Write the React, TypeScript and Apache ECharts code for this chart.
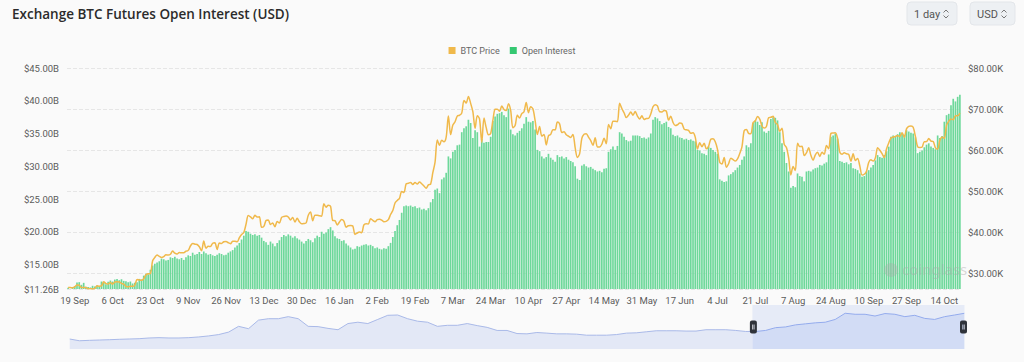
import React, { useEffect, useRef } from 'react';
import * as echarts from 'echarts';

// ---------- data ----------
const START_DATE = '2023-09-16';
const DAY_COUNT = 402;
const MONTH_NAMES = ['Jan', 'Feb', 'Mar', 'Apr', 'May', 'Jun', 'Jul', 'Aug', 'Sep', 'Oct', 'Nov', 'Dec'];

const categories: string[] = (() => {
  const out: string[] = [];
  const d0 = new Date(START_DATE + 'T00:00:00Z');
  for (let i = 0; i < DAY_COUNT; i++) {
    const d = new Date(d0.getTime() + i * 86400000);
    out.push(d.getUTCDate() + ' ' + MONTH_NAMES[d.getUTCMonth()]);
  }
  return out;
})();

// Open interest, billions USD (one per day)
const openInterestB = [
  11.45, 11.26, 11.40, 11.70, 12.25, 12.30, 11.90, 12.20, 11.60, 11.55,
  11.50, 11.75, 11.65, 11.80, 11.60, 12.40, 12.30, 12.00, 12.35, 12.55,
  12.40, 12.70, 12.80, 12.60, 12.75, 12.50, 12.45, 12.30, 12.40, 12.10,
  12.20, 12.30, 12.80, 12.70, 13.30, 13.60, 13.50, 14.20, 14.85, 15.10,
  15.30, 15.50, 15.90, 15.80, 15.60, 15.70, 16.10, 16.00, 16.20, 15.90,
  15.80, 16.00, 15.70, 16.10, 16.40, 16.30, 16.80, 16.50, 16.60, 16.90,
  16.60, 17.00, 16.70, 16.50, 16.60, 16.40, 16.30, 16.50, 16.70, 16.60,
  16.40, 16.50, 16.80, 17.00, 17.20, 17.60, 17.90, 18.30, 18.80, 19.40,
  20.10, 20.00, 19.70, 19.50, 19.60, 19.40, 19.50, 19.10, 18.60, 18.40,
  18.00, 18.50, 18.20, 17.80, 18.30, 18.70, 19.20, 19.50, 19.30, 19.60,
  19.40, 19.10, 19.30, 19.00, 18.80, 18.50, 18.20, 18.60, 18.90, 18.70,
  18.40, 19.00, 19.40, 19.20, 20.00, 19.70, 19.90, 20.40, 20.70, 20.20,
  19.30, 19.00, 18.90, 18.60, 18.70, 18.20, 17.90, 17.60, 17.30, 17.40,
  17.80, 17.70, 17.90, 18.00, 18.10, 17.90, 18.00, 17.80, 17.50, 17.60,
  17.40, 17.30, 17.50, 17.40, 17.80, 18.30, 19.20, 20.10, 21.00, 21.80,
  22.90, 23.90, 24.00, 23.90, 24.00, 23.80, 23.90, 23.60, 23.70, 23.40,
  23.50, 23.30, 23.60, 24.50, 25.00, 26.40, 26.60, 25.90, 28.00, 28.30,
  29.00, 31.50, 31.20, 32.20, 32.50, 33.20, 33.30, 35.20, 35.80, 36.10,
  37.10, 36.60, 34.30, 35.50, 35.20, 33.00, 34.20, 33.60, 33.70, 33.70,
  34.50, 36.90, 37.60, 38.00, 38.10, 38.30, 37.80, 37.50, 38.80, 35.60,
  34.90, 34.70, 35.10, 35.40, 35.80, 36.50, 37.50, 36.80, 36.70, 36.90,
  35.60, 32.50, 32.30, 31.50, 31.20, 31.40, 31.90, 31.30, 31.00, 30.70,
  31.70, 31.40, 31.50, 31.20, 31.40, 31.00, 30.80, 30.60, 30.00, 28.10,
  27.90, 30.10, 30.30, 30.00, 29.80, 29.90, 29.60, 29.40, 29.20, 29.30,
  29.10, 29.60, 29.70, 32.20, 32.60, 33.00, 32.50, 33.10, 35.20, 35.00,
  34.50, 34.00, 33.80, 33.90, 34.70, 34.70, 34.70, 34.60, 34.30, 34.40,
  34.20, 34.40, 35.00, 37.10, 37.50, 37.30, 36.90, 36.40, 36.60, 36.80,
  36.00, 35.80, 34.80, 34.60, 34.70, 34.40, 34.30, 34.10, 34.20, 34.00,
  34.10, 33.90, 33.80, 32.50, 32.40, 32.00, 31.90, 31.70, 33.00, 32.80,
  32.50, 32.20, 31.90, 28.00, 27.80, 27.60, 27.70, 28.60, 28.80, 29.10,
  29.40, 29.80, 30.20, 31.00, 31.50, 33.20, 32.90, 33.50, 36.60, 37.00,
  36.80, 36.30, 36.70, 35.30, 35.10, 35.40, 37.20, 37.50, 37.40, 37.00,
  35.20, 33.50, 32.20, 30.50, 29.20, 26.70, 27.00, 26.80, 28.90, 28.50,
  28.40, 27.70, 29.20, 29.30, 29.20, 29.50, 29.70, 29.80, 30.20, 30.10,
  30.40, 30.60, 31.80, 34.50, 34.70, 35.00, 34.20, 30.80, 30.70, 30.50,
  30.60, 30.30, 30.50, 29.70, 29.60, 29.40, 28.90, 28.40, 28.50, 29.20,
  29.40, 29.80, 30.20, 30.90, 31.70, 31.40, 31.30, 31.70, 32.30, 33.00,
  34.50, 34.70, 34.60, 34.90, 35.20, 35.00, 34.80, 35.50, 35.30, 35.10,
  35.00, 34.40, 32.00, 32.20, 32.40, 32.90, 33.30, 33.50, 33.00, 32.80,
  32.60, 34.70, 34.30, 34.60, 36.80, 37.80, 38.00, 39.30, 40.30, 39.90,
  40.60, 40.90,
];

// BTC price, thousands USD (one per day)
const btcPriceK = [
  26.60, 26.57, 26.53, 26.76, 27.21, 27.13, 26.57, 26.58, 26.58, 26.26, 26.30, 26.22, 26.35, 27.02, 26.91, 26.97,
  27.98, 27.53, 27.43, 27.79, 27.41, 27.95, 27.97, 27.94, 27.60, 27.39, 26.87, 26.76, 26.86, 26.86, 27.16, 28.52,
  28.42, 28.33, 28.72, 29.68, 29.92, 29.99, 33.09, 33.92, 34.50, 34.16, 33.91, 34.09, 34.54, 34.48, 34.67,
  35.44, 34.94, 34.73, 35.08, 35.05, 35.05, 35.42, 35.62, 36.69, 37.32, 37.13, 37.05, 36.50, 35.54, 37.88,
  36.15, 36.60, 36.57, 37.36, 37.45, 35.82, 37.42, 37.29, 37.72, 37.80, 37.48, 37.25, 37.83, 37.86, 37.71,
  38.69, 39.47, 39.98, 41.98, 44.08, 43.75, 43.29, 44.17, 43.72, 43.79, 41.24, 41.45, 42.89, 43.02, 41.94, 42.26,
  41.36, 42.65, 42.27, 43.65, 43.87, 43.99, 43.74, 43.02, 43.61, 42.52, 43.44, 42.58, 42.07, 42.14, 42.28,
  44.18, 44.94, 42.85, 44.18, 44.16, 44.03, 43.94, 46.97, 46.12, 46.63, 46.34, 42.89, 42.84, 41.80, 42.51, 43.15,
  42.74, 41.26, 41.62, 41.66, 41.56, 39.51, 39.85, 40.08, 39.93, 41.82, 42.12, 42.03, 43.30, 42.94, 42.58,
  43.08, 43.19, 43.00, 42.58, 42.66, 43.09, 44.34, 45.30, 47.15, 47.77, 48.29, 49.96, 49.70, 51.80, 51.94,
  52.16, 51.66, 52.12, 51.78, 52.26, 51.84, 51.30, 50.73, 51.57, 51.73, 54.52, 57.09, 62.50, 61.20,
  62.44, 62.03, 63.17, 68.33, 63.80, 66.11, 66.93, 68.30, 68.50, 69.02, 72.12, 71.48, 73.08, 71.40, 69.40, 65.31,
  68.39, 67.61, 61.94, 67.84, 65.50, 63.78, 64.06, 67.23, 69.96, 69.99, 69.46, 70.74, 69.90, 69.65, 71.33,
  69.70, 65.45, 65.98, 68.51, 67.84, 68.90, 69.36, 71.63, 69.14, 70.59, 70.06, 67.20, 63.82, 65.74, 63.43,
  63.81, 61.28, 63.51, 63.84, 64.99, 64.93, 66.84, 66.41, 64.29, 64.50, 63.76, 63.42, 63.11, 63.84, 60.64,
  58.25, 59.12, 62.89, 63.89, 64.03, 63.16, 62.33, 61.19, 63.05, 60.79, 60.79, 61.45, 62.90, 61.55, 66.27, 65.23,
  67.05, 67.02, 66.94, 71.43, 70.14, 69.12, 67.93, 68.53, 69.29, 68.51, 69.39, 68.30, 67.58, 68.36, 67.49,
  67.71, 67.75, 68.80, 70.57, 71.08, 70.76, 69.34, 69.31, 69.65, 69.50, 67.32, 68.24, 66.76, 66.01, 66.19,
  66.64, 66.49, 65.14, 64.96, 64.83, 64.10, 64.25, 63.18, 60.28, 61.80, 60.86, 61.67, 60.32, 60.93, 62.68,
  62.77, 62.04, 60.20, 57.06, 56.66, 58.24, 55.85, 56.71, 58.05, 57.72, 57.34, 57.89, 59.20, 60.80, 64.72, 65.04,
  64.09, 63.99, 66.71, 67.16, 68.17, 67.55, 65.93, 65.37, 65.78, 67.91, 68.00, 68.26, 66.78, 66.20, 64.62,
  65.36, 61.41, 60.68, 58.12, 53.99, 56.03, 55.03, 61.71, 60.88, 60.94, 58.71, 59.35, 60.60, 58.74, 57.56, 58.87,
  59.48, 58.48, 59.49, 59.01, 61.16, 60.38, 64.09, 64.18, 64.25, 62.88, 59.50, 59.03, 59.39, 59.12, 58.97,
  57.33, 59.12, 57.48, 57.97, 56.16, 53.95, 54.14, 54.84, 57.02, 57.65, 57.34, 58.13, 60.57, 60.00, 59.19,
  58.19, 60.31, 61.76, 62.95, 63.20, 63.35, 63.58, 63.34, 64.26, 63.14, 65.18, 65.79, 65.89, 65.60, 63.33,
  60.84, 60.63, 60.75, 62.07, 62.09, 62.82, 62.22, 62.13, 60.58, 60.27, 62.45, 63.19, 62.85, 66.08, 67.04, 67.61,
  67.40, 68.41, 68.36, 69.00,
];

// Overview series shown in the range slider
const zoomShadow = [
  11.0, 9.3, 9.7, 10.0, 10.3, 10.7, 11.0, 11.3, 12.0, 12.3,
  12.0, 12.0, 12.3, 13.0, 14.0, 15.3, 17.7, 23.3, 21.0, 29.3,
  30.7, 30.7, 32.7, 30.7, 23.3, 23.0, 21.3, 20.0, 26.0, 27.3,
  26.0, 30.0, 34.0, 34.3, 30.7, 28.3, 27.3, 23.3, 24.3, 24.3,
  26.0, 24.0, 22.3, 19.3, 19.3, 16.3, 16.0, 17.3, 16.7, 16.0,
  16.0, 15.7, 14.7, 14.7, 14.7, 15.3, 16.7, 17.0, 18.0, 19.0,
  19.0, 19.0, 18.7, 18.7, 20.0, 20.0, 20.0, 19.3, 18.3, 18.3,
  19.3, 22.0, 22.7, 24.7, 25.7, 26.7, 27.3, 30.0, 36.0, 35.0,
  35.0, 33.3, 35.7, 35.0, 32.7, 34.0, 31.0, 30.0, 32.7, 34.3,
  36.0,
];
const zoomShadowCategories = zoomShadow.map((_, i) => String(i));
const ZOOM_START = 76.3;
const ZOOM_END = 100;

const SERIES_NAMES = ['BTC Price', 'Open Interest'];
const TITLE = 'Exchange BTC Futures Open Interest (USD)';

// ---------- styles ----------
const BG = '#fafafa';
const PRICE_COLOR = '#f0b94b';
const OI_COLOR = '#6dd89a';
const OI_LEGEND_COLOR = '#35c872';
const LABEL_COLOR = '#5a5a5a';
const AXIS_FONT = 'Roboto, "Noto Sans", sans-serif';

const HANDLE_ICON =
  'path://M2,0 h3 a2,2 0 0 1 2,2 v9 a2,2 0 0 1 -2,2 h-3 a2,2 0 0 1 -2,-2 v-9 a2,2 0 0 1 2,-2 z ' +
  'M2.4,4 v5 h0.8 v-5 z M3.8,4 v5 h0.8 v-5 z';

function buildOption() {
  return {
    animation: false,
    backgroundColor: BG,
    legend: {
      data: [
        { name: SERIES_NAMES[0], itemStyle: { color: PRICE_COLOR } },
        { name: SERIES_NAMES[1], itemStyle: { color: OI_LEGEND_COLOR } },
      ],
      top: 41,
      left: 'center',
      icon: 'rect',
      itemWidth: 7,
      itemHeight: 7,
      itemGap: 10,
      textStyle: { color: '#666', fontSize: 9, fontFamily: AXIS_FONT },
    },
    grid: [
      { left: 67, right: 63, top: 68, bottom: 73 },
      { left: 67, right: 62, top: 305, height: 44, show: false },
    ],
    xAxis: [
      {
        type: 'category',
        gridIndex: 0,
        data: categories,
        axisLine: { show: false },
        axisTick: { show: false },
        splitLine: { show: false },
        axisLabel: {
          interval: (i: number) => (i - 3) % 17 === 0,
          color: LABEL_COLOR,
          fontSize: 9.5,
          fontFamily: AXIS_FONT,
          margin: 6,
        },
      },
      { type: 'category', gridIndex: 1, data: zoomShadowCategories, show: false },
    ],
    yAxis: [
      {
        type: 'value',
        gridIndex: 0,
        position: 'left',
        min: 'dataMin',
        max: 45,
        axisLine: { show: false },
        axisTick: { show: false },
        splitLine: { show: false },
        axisLabel: {
          formatter: (v: number) => '$' + v.toFixed(2) + 'B',
          color: LABEL_COLOR,
          fontSize: 9.5,
          fontFamily: AXIS_FONT,
          margin: 8,
        },
      },
      {
        type: 'value',
        gridIndex: 0,
        position: 'right',
        min: 'dataMin',
        max: 80,
        axisLine: { show: false },
        axisTick: { show: false },
        splitLine: { show: true, lineStyle: { type: 'dashed', color: '#e6e6e6', width: 1 } },
        axisLabel: {
          showMinLabel: false,
          formatter: (v: number) => '$' + v.toFixed(2) + 'K',
          color: LABEL_COLOR,
          fontSize: 9.5,
          fontFamily: AXIS_FONT,
          margin: 7,
        },
      },
      { type: 'value', gridIndex: 1, show: false, scale: true },
    ],
    dataZoom: [
      {
        type: 'slider',
        xAxisIndex: 1,
        left: 67,
        right: 62,
        top: 305,
        height: 44,
        start: ZOOM_START,
        end: ZOOM_END,
        showDetail: false,
        brushSelect: false,
        moveHandleSize: 0,
        borderColor: 'transparent',
        backgroundColor: 'transparent',
        fillerColor: 'rgba(100,140,235,0.13)',
        handleIcon: HANDLE_ICON,
        handleSize: 13,
        handleStyle: { color: '#2f333a', borderColor: '#2f333a', borderWidth: 0 },
        dataBackground: {
          lineStyle: { color: '#a9b9e8', width: 1 },
          areaStyle: { color: '#e3e8f6', opacity: 1 },
        },
        selectedDataBackground: {
          lineStyle: { color: '#9bb0ee', width: 1 },
          areaStyle: { color: '#e3e9f7', opacity: 1 },
        },
      },
    ],
    series: [
      {
        name: SERIES_NAMES[1],
        type: 'bar',
        xAxisIndex: 0,
        yAxisIndex: 0,
        data: openInterestB,
        barCategoryGap: '25%',
        itemStyle: { color: OI_COLOR },
        emphasis: { disabled: true },
      },
      {
        name: SERIES_NAMES[0],
        type: 'line',
        xAxisIndex: 0,
        yAxisIndex: 1,
        data: btcPriceK,
        symbol: 'none',
        smooth: 0.3,
        lineStyle: { color: PRICE_COLOR, width: 1.5 },
        itemStyle: { color: PRICE_COLOR },
        emphasis: { disabled: true },
      },
      {
        name: 'overview',
        type: 'line',
        xAxisIndex: 1,
        yAxisIndex: 2,
        data: zoomShadow,
        symbol: 'none',
        silent: true,
        lineStyle: { opacity: 0 },
      },
    ],
    graphic: [
      {
        type: 'text',
        x: 12,
        y: 14,
        style: {
          text: TITLE,
          fill: '#2b2b2b',
          fontSize: 13.5,
          fontWeight: 600,
          fontFamily: '"Open Sans", "Noto Sans", sans-serif',
          verticalAlign: 'middle',
          align: 'left',
        },
      },
      {
        type: 'rect',
        shape: { x: 907, y: 2, width: 50, height: 23, r: 4 },
        style: { fill: '#edf0f3', stroke: '#e3e6ea', lineWidth: 1 },
      },
      {
        type: 'text',
        x: 914,
        y: 14,
        style: { text: '1 day', fill: '#555', fontSize: 11, fontFamily: AXIS_FONT, verticalAlign: 'middle' },
      },
      {
        type: 'polyline',
        shape: { points: [[943.5, 12.5], [946, 10], [948.5, 12.5]] },
        style: { stroke: '#777', lineWidth: 1, fill: 'none' },
      },
      {
        type: 'polyline',
        shape: { points: [[943.5, 15.5], [946, 18], [948.5, 15.5]] },
        style: { stroke: '#777', lineWidth: 1, fill: 'none' },
      },
      {
        type: 'rect',
        shape: { x: 970, y: 2, width: 45, height: 23, r: 4 },
        style: { fill: '#edf0f3', stroke: '#e3e6ea', lineWidth: 1 },
      },
      {
        type: 'text',
        x: 977,
        y: 14,
        style: { text: 'USD', fill: '#555', fontSize: 11, fontFamily: AXIS_FONT, verticalAlign: 'middle' },
      },
      {
        type: 'polyline',
        shape: { points: [[1001.5, 12.5], [1004, 10], [1006.5, 12.5]] },
        style: { stroke: '#777', lineWidth: 1, fill: 'none' },
      },
      {
        type: 'polyline',
        shape: { points: [[1001.5, 15.5], [1004, 18], [1006.5, 15.5]] },
        style: { stroke: '#777', lineWidth: 1, fill: 'none' },
      },
      {
        type: 'circle',
        shape: { cx: 891, cy: 270, r: 7 },
        style: { fill: 'rgba(170,170,170,0.35)' },
        z: 100,
      },
      {
        type: 'text',
        x: 902,
        y: 269,
        z: 100,
        style: {
          text: 'coinglass',
          fill: 'rgba(170,170,170,0.45)',
          fontSize: 15,
          fontFamily: '"Noto Sans", sans-serif',
          verticalAlign: 'middle',
        },
      },
    ],
  };
}

export default function App() {
  const ref = useRef<HTMLDivElement>(null);
  useEffect(() => {
    document.body.style.margin = '0';
    document.body.style.background = BG;
    const chart = echarts.init(ref.current as HTMLDivElement, null, { renderer: 'svg' });
    chart.setOption(buildOption() as any);
    return () => chart.dispose();
  }, []);
  return <div ref={ref} style={{ width: 1024, height: 362, background: BG }} />;
}
